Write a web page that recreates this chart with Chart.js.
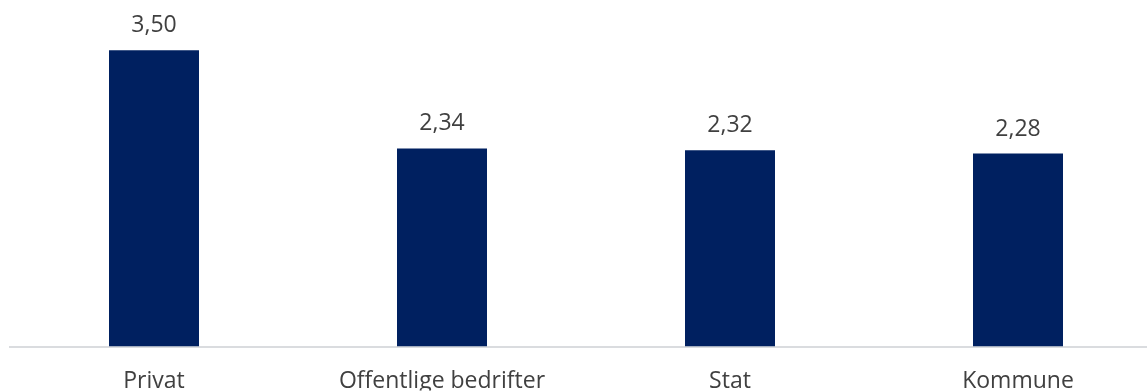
<!DOCTYPE html>
<html>
<head>
<meta charset="utf-8">
<script src="https://cdn.jsdelivr.net/npm/chart.js@4/dist/chart.umd.min.js"></script>
<style>
  html, body { margin: 0; padding: 0; background: #fff; overflow: hidden; }
  .wrap { position: relative; width: 1162px; height: 392px; }
</style>
</head>
<body>
<div class="wrap"><canvas id="chart"></canvas></div>
<script>
const categories = ["Privat", "Offentlige bedrifter", "Stat", "Kommune"]
const values = [3.5, 2.34, 2.32, 2.28]

const barColor = "#002060"
const textColor = "#404040"
const fontFamily = "'Open Sans', sans-serif"
const fontSize = 23

function formatValue(v) {
  return v.toFixed(2).replace(".", ",")
}

// value labels above each bar
const valueLabels = {
  id: "valueLabels",
  afterDatasetsDraw(chart) {
    const ctx = chart.ctx
    const meta = chart.getDatasetMeta(0)
    ctx.save()
    ctx.font = fontSize + "px " + fontFamily
    ctx.fillStyle = textColor
    ctx.textAlign = "center"
    ctx.textBaseline = "alphabetic"
    meta.data.forEach((bar, i) => {
      ctx.fillText(formatValue(values[i]), bar.x, bar.y - 18)
    })
    ctx.restore()
  },
}

new Chart(document.getElementById("chart"), {
  type: "bar",
  data: {
    labels: categories,
    datasets: [
      {
        data: values,
        backgroundColor: barColor,
        borderWidth: 0,
        categoryPercentage: 1,
        barPercentage: 0.3125,
      },
    ],
  },
  options: {
    responsive: true,
    maintainAspectRatio: false,
    animation: false,
    layout: {
      padding: { left: 10, right: 0, top: 8, bottom: 1.5 },
    },
    plugins: {
      legend: { display: false },
      tooltip: { enabled: false },
    },
    scales: {
      x: {
        grid: { display: false, drawTicks: false },
        border: { color: "#dadcdf", width: 2 },
        afterFit(scale) {
          scale.height = 44
        },
        ticks: {
          color: textColor,
          padding: 21,
          maxRotation: 0,
          autoSkip: false,
          font: { family: fontFamily, size: fontSize },
        },
      },
      y: {
        display: false,
        min: 0,
        max: 4,
      },
    },
  },
  plugins: [valueLabels],
})
</script>
</body>
</html>
